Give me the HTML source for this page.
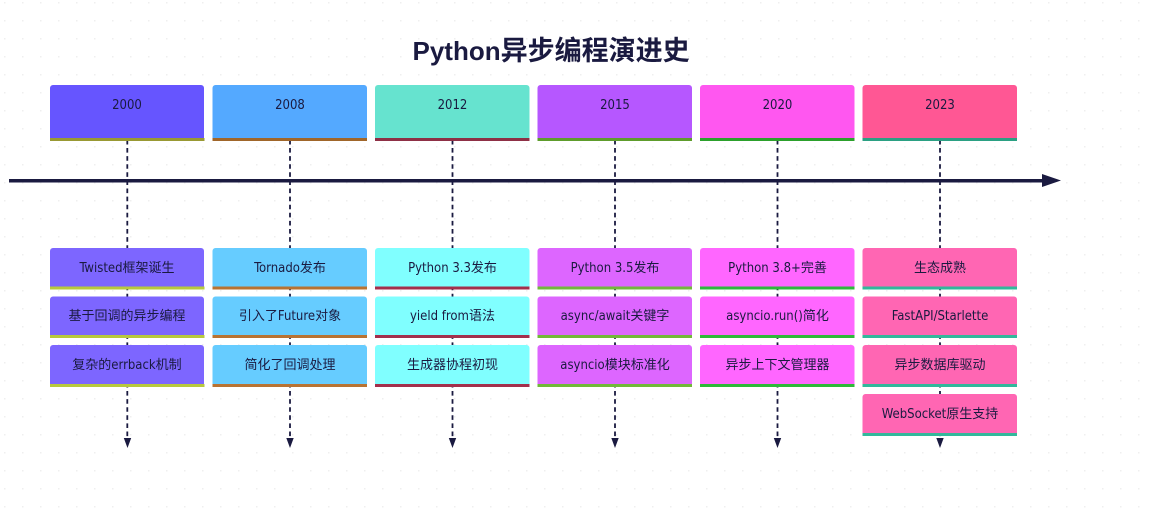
<!DOCTYPE html>
<html><head><meta charset="utf-8"><style>
html,body{margin:0;padding:0;background:#fff;width:1149px;height:516px;overflow:hidden}
svg{display:block}
text{font-family:"DejaVu Sans Condensed","Liberation Sans","Noto Sans CJK SC",sans-serif;font-size:13px;fill:#1a1a40;text-anchor:middle}
.t{font-family:"Noto Sans CJK SC","Liberation Sans",sans-serif;font-size:27px;font-weight:700;fill:#1a1a40;text-anchor:start}
.t tspan{font-family:"Liberation Sans",sans-serif;font-size:26px;font-weight:700}
.d{stroke:#1a1a40;stroke-width:1.8;stroke-dasharray:4.6 3.5;stroke-dashoffset:1.1;fill:none}
</style></head><body>
<svg width="1149" height="516" viewBox="0 0 1149 516" xmlns="http://www.w3.org/2000/svg">
<defs><pattern id="g" width="18" height="18" patternUnits="userSpaceOnUse" x="4" y="2"><rect width="1.5" height="1.5" fill="#efefef"/></pattern></defs>
<rect width="1149" height="516" fill="#fff"/>
<rect width="1149" height="516" fill="url(#g)"/>
<text class="t" x="412.500" y="60"><tspan>Python</tspan>异步编程演进史</text>
<path class="d" d="M127.300 141V440M290 141V440M452.500 141V440M615 141V440M777.500 141V440M940 141V440"/>
<g fill="#1a1a40"><path d="M123.800 438h7.400l-3.700 10zM286.300 438h7.400l-3.700 10zM448.800 438h7.400l-3.700 10zM611.300 438h7.400l-3.700 10zM773.800 438h7.400l-3.700 10zM936.300 438h7.400l-3.700 10z"/></g>
<rect x="9" y="179" width="1034" height="3.500" fill="#1a1a40"/>
<path d="M1042 174l19 6.500-19 6.500z" fill="#1a1a40"/>

<!-- 2000 -->
<g>
<path d="M50 141V88a3 3 0 0 1 3-3H201a3 3 0 0 1 3 3V141z" fill="#6655ff"/><rect x="50" y="138" width="154.500" height="3" fill="#999933"/>
<text x="127" y="109">2000</text>
<path d="M50 289.500V251a3 3 0 0 1 3-3H201a3 3 0 0 1 3 3V289.500z" fill="#7d66ff"/><rect x="50" y="286.500" width="154.500" height="3" fill="#b8c93e"/>
<text x="127" y="272">Twisted框架诞生</text>
<path d="M50 338V299.500a3 3 0 0 1 3-3H201a3 3 0 0 1 3 3V338z" fill="#7d66ff"/><rect x="50" y="335" width="154.500" height="3" fill="#b8c93e"/>
<text x="127" y="320">基于回调的异步编程</text>
<path d="M50 387V348a3 3 0 0 1 3-3H201a3 3 0 0 1 3 3V387z" fill="#7d66ff"/><rect x="50" y="384" width="154.500" height="3" fill="#b8c93e"/>
<text x="127" y="369">复杂的errback机制</text>
</g>
<!-- 2008 -->
<g>
<path d="M212.500 141V88a3 3 0 0 1 3-3H364a3 3 0 0 1 3 3V141z" fill="#54a9ff"/><rect x="212.500" y="138" width="154.500" height="3" fill="#a0662a"/>
<text x="290" y="109">2008</text>
<path d="M212.500 289.500V251a3 3 0 0 1 3-3H364a3 3 0 0 1 3 3V289.500z" fill="#66ccff"/><rect x="212.500" y="286.500" width="154.500" height="3" fill="#b87333"/>
<text x="290" y="272">Tornado发布</text>
<path d="M212.500 338V299.500a3 3 0 0 1 3-3H364a3 3 0 0 1 3 3V338z" fill="#66ccff"/><rect x="212.500" y="335" width="154.500" height="3" fill="#b87333"/>
<text x="290" y="320">引入了Future对象</text>
<path d="M212.500 387V348a3 3 0 0 1 3-3H364a3 3 0 0 1 3 3V387z" fill="#66ccff"/><rect x="212.500" y="384" width="154.500" height="3" fill="#b87333"/>
<text x="290" y="369">简化了回调处理</text>
</g>
<!-- 2012 -->
<g>
<path d="M375 141V88a3 3 0 0 1 3-3H526.500a3 3 0 0 1 3 3V141z" fill="#66e3cf"/><rect x="375" y="138" width="154.500" height="3" fill="#8e3046"/>
<text x="452.500" y="109">2012</text>
<path d="M375 289.500V251a3 3 0 0 1 3-3H526.500a3 3 0 0 1 3 3V289.500z" fill="#80ffff"/><rect x="375" y="286.500" width="154.500" height="3" fill="#a3304c"/>
<text x="452.500" y="272">Python 3.3发布</text>
<path d="M375 338V299.500a3 3 0 0 1 3-3H526.500a3 3 0 0 1 3 3V338z" fill="#80ffff"/><rect x="375" y="335" width="154.500" height="3" fill="#a3304c"/>
<text x="452.500" y="320">yield from语法</text>
<path d="M375 387V348a3 3 0 0 1 3-3H526.500a3 3 0 0 1 3 3V387z" fill="#80ffff"/><rect x="375" y="384" width="154.500" height="3" fill="#a3304c"/>
<text x="452.500" y="369">生成器协程初现</text>
</g>
<!-- 2015 -->
<g>
<path d="M537.500 141V88a3 3 0 0 1 3-3H689a3 3 0 0 1 3 3V141z" fill="#b657ff"/><rect x="537.500" y="138" width="154.500" height="3" fill="#5e9c2c"/>
<text x="615" y="109">2015</text>
<path d="M537.500 289.500V251a3 3 0 0 1 3-3H689a3 3 0 0 1 3 3V289.500z" fill="#dd66ff"/><rect x="537.500" y="286.500" width="154.500" height="3" fill="#72b83a"/>
<text x="615" y="272">Python 3.5发布</text>
<path d="M537.500 338V299.500a3 3 0 0 1 3-3H689a3 3 0 0 1 3 3V338z" fill="#dd66ff"/><rect x="537.500" y="335" width="154.500" height="3" fill="#72b83a"/>
<text x="615" y="320">async/await关键字</text>
<path d="M537.500 387V348a3 3 0 0 1 3-3H689a3 3 0 0 1 3 3V387z" fill="#dd66ff"/><rect x="537.500" y="384" width="154.500" height="3" fill="#72b83a"/>
<text x="615" y="369">asyncio模块标准化</text>
</g>
<!-- 2020 -->
<g>
<path d="M700 141V88a3 3 0 0 1 3-3H851.500a3 3 0 0 1 3 3V141z" fill="#ff57f0"/><rect x="700" y="138" width="154.500" height="3" fill="#2ca02c"/>
<text x="777.500" y="109">2020</text>
<path d="M700 289.500V251a3 3 0 0 1 3-3H851.500a3 3 0 0 1 3 3V289.500z" fill="#ff66ff"/><rect x="700" y="286.500" width="154.500" height="3" fill="#2eb83a"/>
<text x="777.500" y="272">Python 3.8+完善</text>
<path d="M700 338V299.500a3 3 0 0 1 3-3H851.500a3 3 0 0 1 3 3V338z" fill="#ff66ff"/><rect x="700" y="335" width="154.500" height="3" fill="#2eb83a"/>
<text x="777.500" y="320">asyncio.run()简化</text>
<path d="M700 387V348a3 3 0 0 1 3-3H851.500a3 3 0 0 1 3 3V387z" fill="#ff66ff"/><rect x="700" y="384" width="154.500" height="3" fill="#2eb83a"/>
<text x="777.500" y="369">异步上下文管理器</text>
</g>
<!-- 2023 -->
<g>
<path d="M862.500 141V88a3 3 0 0 1 3-3H1014a3 3 0 0 1 3 3V141z" fill="#ff5794"/><rect x="862.500" y="138" width="154.500" height="3" fill="#2ba083"/>
<text x="940" y="109">2023</text>
<path d="M862.500 289.500V251a3 3 0 0 1 3-3H1014a3 3 0 0 1 3 3V289.500z" fill="#ff66b3"/><rect x="862.500" y="286.500" width="154.500" height="3" fill="#33b89b"/>
<text x="940" y="272">生态成熟</text>
<path d="M862.500 338V299.500a3 3 0 0 1 3-3H1014a3 3 0 0 1 3 3V338z" fill="#ff66b3"/><rect x="862.500" y="335" width="154.500" height="3" fill="#33b89b"/>
<text x="940" y="320">FastAPI/Starlette</text>
<path d="M862.500 387V348a3 3 0 0 1 3-3H1014a3 3 0 0 1 3 3V387z" fill="#ff66b3"/><rect x="862.500" y="384" width="154.500" height="3" fill="#33b89b"/>
<text x="940" y="369">异步数据库驱动</text>
<path d="M862.500 436V397a3 3 0 0 1 3-3H1014a3 3 0 0 1 3 3V436z" fill="#ff66b3"/><rect x="862.500" y="433" width="154.500" height="3" fill="#33b89b"/>
<text x="940" y="418">WebSocket原生支持</text>
</g>
</svg>
</body></html>
